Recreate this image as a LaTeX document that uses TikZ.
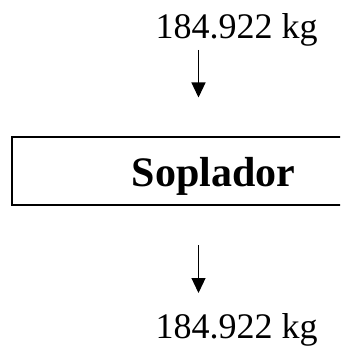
\documentclass[tikz,border=0pt]{standalone}
\usepackage{fontspec}
\setmainfont{Liberation Serif}
\usetikzlibrary{arrows.meta}
\tikzset{
  qty/.style={inner sep=0pt, outer sep=0pt, anchor=base, font=\fontsize{36}{40}\selectfont},
  flow/.style={line width=1.2pt, -{Triangle[width=14pt,length=15pt]}},
  unitbox/.style={draw, line width=2pt, inner sep=0pt, outer sep=0pt, anchor=north west},
  unitlabel/.style={inner sep=0pt, outer sep=0pt, anchor=base, font=\fontsize{42}{46}\selectfont\bfseries}
}
\begin{document}
\begin{tikzpicture}[x=1pt,y=-1pt]
\clip (0,0) rectangle (340,347);
\node[qty] (in) at (236.5,38.3) {184.922 kg};
\coordinate (a1s) at (198.5,50);
\coordinate (a1e) at (198.5,97.5);
\draw[flow] (a1s) -- (a1e);
\node[unitbox, minimum width=400pt, minimum height=68pt] (box) at (11.5,137) {};
\node[unitlabel] (lbl) at (213.4,186.7) {Soplador};
\coordinate (a2s) at (198.5,245);
\coordinate (a2e) at (198.5,293);
\draw[flow] (a2s) -- (a2e);
\node[qty] (out) at (236.5,338.3) {184.922 kg};
\end{tikzpicture}
\end{document}
